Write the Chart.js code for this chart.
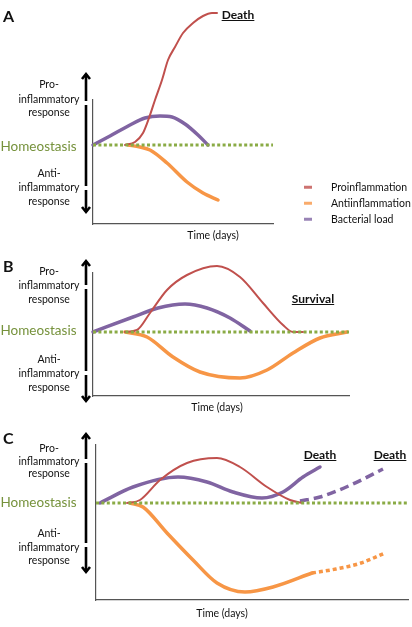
<!DOCTYPE html>
<html><head><meta charset="utf-8">
<script src="https://cdn.jsdelivr.net/npm/chart.js@4.4.0/dist/chart.umd.min.js"></script>
<style>
html,body{margin:0;padding:0;background:#fff;}
body{width:412px;height:627px;position:relative;overflow:hidden;font-family:Lato,"Open Sans",sans-serif;color:#111;}
canvas{position:absolute;left:0;}
.t{position:absolute;white-space:nowrap;transform:translate(-50%,-50%);line-height:1;}
.side{font-size:10.5px;}
.home{font-size:13.5px;color:#76923c;}
.time{font-size:10.5px;}
.panel{font-size:16px;font-weight:bold;transform:translate(0,-50%);}
.out{font-size:12px;font-weight:bold;text-decoration:underline;}
.leg{position:absolute;font-size:10.5px;line-height:1;transform:translateY(-50%);white-space:nowrap;}
.sw{position:absolute;width:8px;height:2.5px;transform:translateY(-50%);opacity:0.8;}
</style>
</head><body>
<canvas id="cA" width="412" height="245" style="top:0px"></canvas>
<canvas id="cB" width="412" height="170" style="top:245px"></canvas>
<canvas id="cC" width="412" height="212" style="top:415px"></canvas>
<div id="labels"></div>
<script>
// ---- data (time in days, response level relative to homeostasis) ----
const seriesNames = ['Proinflammation', 'Antiinflammation', 'Bacterial load'];
const homeostasisLabel = 'Homeostasis';
const proLabel = ['Pro-', 'inflammatory', 'response'];
const antiLabel = ['Anti-', 'inflammatory', 'response'];
const timeLabel = 'Time (days)';

// Panel A
const A_pro_days = [3.2, 4.2, 5.0, 5.6, 6.2, 6.9, 7.5, 8.2, 9.0, 10.0, 11.0, 11.9, 12.4];
const A_pro_level = [0, 0.3, 1.2, 2.7, 4.5, 6.5, 8.5, 9.8, 11.2, 12.2, 12.9, 13.2, 13.2];
const A_anti_days = [3.5, 4.7, 5.7, 7.4, 9.4, 11.0, 12.5];
const A_anti_level = [0, -0.2, -0.5, -1.8, -3.7, -4.8, -5.5];
const A_bac_days = [0, 1.7, 3.7, 5.2, 6.7, 7.9, 9.2, 10.5, 11.5];
const A_bac_level = [0, 0.9, 2.0, 2.7, 2.9, 2.8, 2.1, 1.0, 0];
const A_outcome = 'Death';

// Panel B
const B_pro_days = [3.2, 4.4, 5.7, 7.4, 9.4, 12.4, 14.7, 17.0, 19.0, 20.0, 21.0];
const B_pro_level = [0, 0.2, 1.9, 4.2, 5.7, 6.6, 5.5, 2.9, 0.7, 0, 0];
const B_anti_days = [3.2, 5.4, 8.0, 10.7, 14.7, 17.4, 20.0, 22.7, 25.4];
const B_anti_level = [0, -0.5, -2.5, -4.0, -4.6, -3.8, -2.1, -0.6, 0];
const B_bac_days = [0, 4.0, 6.5, 9.2, 11.4, 13.7, 15.7];
const B_bac_level = [0, 1.5, 2.4, 2.8, 2.4, 1.4, 0.1];
const B_outcome = 'Survival';

// Panel C
const C_pro_days = [3.1, 4.4, 6.4, 9.1, 12.1, 14.4, 17.1, 19.4, 20.7];
const C_pro_level = [0, 0.3, 2.3, 4.0, 4.5, 3.6, 1.6, 0.3, 0];
const C_anti_days = [3.4, 4.7, 7.1, 9.7, 12.1, 14.9, 17.7, 21.6];
const C_anti_level = [0, -0.4, -3.0, -5.7, -8.0, -8.9, -8.4, -7.0];
const C_anti2_days = [21.6, 24.0, 26.5, 28.9];
const C_anti2_level = [-7.0, -6.6, -6.0, -5.0];
const C_bac_days = [0.4, 3.7, 8.2, 11.1, 13.7, 16.6, 18.7, 20.7, 22.4];
const C_bac_level = [0, 1.6, 2.6, 2.1, 1.1, 0.5, 1.1, 2.6, 3.6];
const C_bac2_days = [20.4, 22.4, 25.7, 28.7];
const C_bac2_level = [0.2, 0.6, 1.9, 3.4];
const C_outcome = ['Death', 'Death'];

// ---- styles ----
const RED = '#c0504d', ORANGE = '#f79646', PURPLE = '#8064a2', GREEN = '#8aab45';
const colors = [RED, ORANGE, PURPLE];

const pts = (xs, ys) => xs.map((x, i) => ({x, y: ys[i]}));

const arrowPlugin = {
  id: 'arrow',
  afterDraw(chart, args, o) {
    const ctx = chart.ctx, x = o.x, t = o.top, b = o.bottom;
    ctx.save();
    ctx.strokeStyle = '#000';
    ctx.lineWidth = 2.6;
    const stops = [t + 1];
    o.gaps.forEach(g => { stops.push(g - 2, g + 2); });
    stops.push(b - 1);
    for (let i = 0; i < stops.length; i += 2) {
      ctx.beginPath(); ctx.moveTo(x, stops[i]); ctx.lineTo(x, stops[i + 1]); ctx.stroke();
    }
    ctx.lineJoin = 'miter';
    ctx.beginPath(); ctx.moveTo(x - 4, t + 6); ctx.lineTo(x, t + 1); ctx.lineTo(x + 4, t + 6); ctx.stroke();
    ctx.beginPath(); ctx.moveTo(x - 4, b - 6); ctx.lineTo(x, b - 1); ctx.lineTo(x + 4, b - 6); ctx.stroke();
    ctx.restore();
  }
};

function lineDs(data, color, width, extra) {
  return Object.assign({
    data, borderColor: color, borderWidth: width, pointRadius: 0,
    cubicInterpolationMode: 'monotone', fill: false, clip: false,
    borderCapStyle: 'round', borderJoinStyle: 'round'
  }, extra || {});
}

function makePanel(id, canvasTop, canvasH, area, xMax, yMin, yMax, datasets, arrow) {
  const homeo = {
    data: [{x: 0, y: 0}, {x: xMax, y: 0}], borderColor: GREEN, borderWidth: 3,
    borderDash: [3, 2.4], pointRadius: 0, fill: false, clip: false, borderCapStyle: 'butt', order: 0
  };
  new Chart(document.getElementById(id), {
    type: 'line',
    data: {datasets: [homeo].concat(datasets)},
    plugins: [arrowPlugin],
    options: {
      responsive: false, animation: false, devicePixelRatio: 1,
      events: [],
      layout: {padding: {left: area.l, right: 412 - area.r, top: area.t - canvasTop, bottom: canvasTop + canvasH - area.b}},
      scales: {
        x: {type: 'linear', min: 0, max: xMax, ticks: {display: false},
            grid: {display: false, drawTicks: false}, border: {display: true, color: '#555', width: 1.2}},
        y: {type: 'linear', min: yMin, max: yMax, ticks: {display: false},
            grid: {display: false, drawTicks: false}, border: {display: true, color: '#555', width: 1.2}}
      },
      plugins: {
        legend: {display: false}, tooltip: {enabled: false},
        arrow: {x: 86, top: arrow.top - canvasTop, bottom: arrow.bottom - canvasTop,
                gaps: arrow.gaps.map(g => g - canvasTop)}
      }
    }
  });
}

makePanel('cA', 0, 245, {l: 93, r: 273, t: 100, b: 224}, 18, -7.9, 4.5, [
  lineDs(pts(A_pro_days, A_pro_level), RED, 2, {order: 1}),
  lineDs(pts(A_anti_days, A_anti_level), ORANGE, 3.5, {order: 2}),
  lineDs(pts(A_bac_days, A_bac_level), PURPLE, 3.5, {order: 3})
], {top: 73, bottom: 213, gaps: [103, 188]});

makePanel('cB', 245, 170, {l: 93, r: 349, t: 273, b: 396}, 25.6, -6.4, 5.9, [
  lineDs(pts(B_pro_days, B_pro_level), RED, 2, {order: 1}),
  lineDs(pts(B_anti_days, B_anti_level), ORANGE, 3.5, {order: 2}),
  lineDs(pts(B_bac_days, B_bac_level), PURPLE, 3.5, {order: 3})
], {top: 260, bottom: 402, gaps: [287, 373]});

makePanel('cC', 415, 212, {l: 96, r: 408, t: 445, b: 600}, 31.2, -9.7, 5.8, [
  lineDs(pts(C_pro_days, C_pro_level), RED, 2, {order: 1}),
  lineDs(pts(C_anti_days, C_anti_level), ORANGE, 3.5, {order: 2}),
  lineDs(pts(C_anti2_days, C_anti2_level), ORANGE, 3.5, {order: 2, borderDash: [4, 3], borderCapStyle: 'butt'}),
  lineDs(pts(C_bac_days, C_bac_level), PURPLE, 3.5, {order: 3}),
  lineDs(pts(C_bac2_days, C_bac2_level), PURPLE, 3.5, {order: 3, borderDash: [9, 5], borderCapStyle: 'butt'})
], {top: 433, bottom: 573, gaps: [461, 545]});

// ---- text ----
const L = document.getElementById('labels');
function txt(s, x, y, cls) {
  const d = document.createElement('div');
  d.className = 't ' + cls; d.textContent = s;
  d.style.left = x + 'px'; d.style.top = y + 'px';
  L.appendChild(d); return d;
}
function sideLabels(proY, homeY, antiY, timeX, timeY) {
  proLabel.forEach((s, i) => txt(s, 49, proY[i], 'side'));
  txt(homeostasisLabel, 38.5, homeY, 'home');
  antiLabel.forEach((s, i) => txt(s, 49, antiY[i], 'side'));
  txt(timeLabel, timeX, timeY, 'time');
}
txt('A', 3, 16, 'panel'); txt('B', 3, 266, 'panel'); txt('C', 3, 438, 'panel');
sideLabels([84, 99, 112], 147, [173, 187, 201], 213, 235);
sideLabels([271, 285, 299], 331, [359, 373, 387], 217, 407);
sideLabels([448, 461, 473], 503, [533, 547, 560], 222, 613);
txt(A_outcome, 238, 15, 'out');
txt(B_outcome, 313, 299, 'out');
txt(C_outcome[0], 320, 455, 'out');
txt(C_outcome[1], 390, 455, 'out');

// legend
const legY = [187, 203, 219];
seriesNames.forEach((n, i) => {
  const sw = document.createElement('div');
  sw.className = 'sw'; sw.style.left = '304px'; sw.style.top = legY[i] + 'px'; sw.style.background = colors[i];
  L.appendChild(sw);
  const d = document.createElement('div');
  d.className = 'leg'; d.textContent = n; d.style.left = '331px'; d.style.top = legY[i] + 'px';
  L.appendChild(d);
});
</script>
</body></html>
